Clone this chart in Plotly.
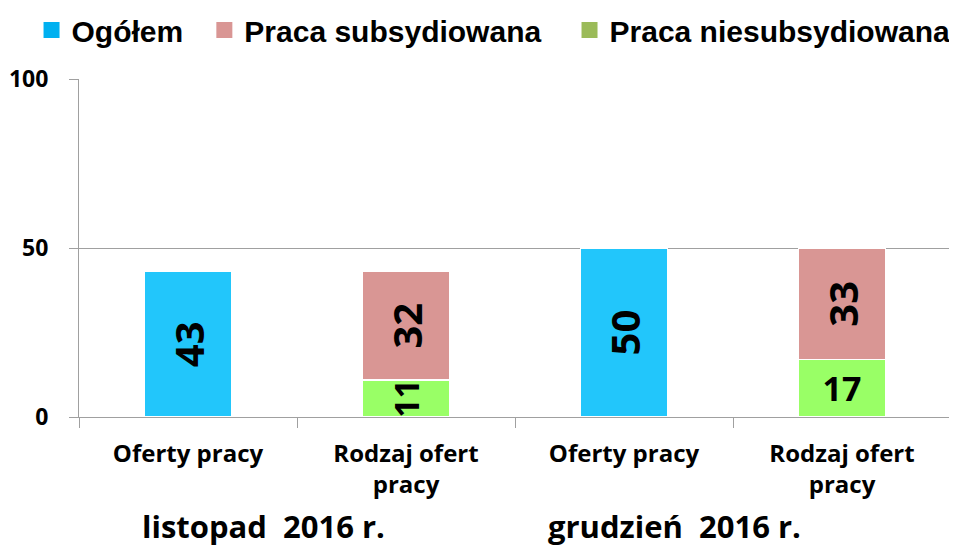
import plotly.graph_objects as go

categories = ["lis_oferty", "lis_rodzaj", "gru_oferty", "gru_rodzaj"]
tick_labels = ["Oferty pracy", "Rodzaj ofert<br>pracy", "Oferty pracy", "Rodzaj ofert<br>pracy"]
group_labels = ["listopad  2016 r.", "grudzień  2016 r."]

ogolem = [43, None, 50, None]
niesubs_rot = [None, 11, None, None]
niesubs_flat = [None, None, None, 17]
subs = [None, 32, None, 33]

series_names = ["Ogółem", "Praca subsydiowana", "Praca niesubsydiowana"]
legend_colors = ["#00b0f0", "#d99694", "#9bbb59"]
bar_colors = {"ogolem": "#22c6fb", "subs": "#d99694", "niesubs": "#99ff66"}


def txt(vals):
    return [("<b>%d</b>" % v) if v is not None else "" for v in vals]


fig = go.Figure()
common = dict(width=0.4, showlegend=False, textposition="inside",
              insidetextanchor="middle", constraintext="none", hoverinfo="skip")
edge = dict(color="white", width=1.5)
fig.add_bar(x=categories, y=ogolem, text=txt(ogolem), textangle=-90,
            textfont=dict(family="Open Sans", size=40, color="black"),
            marker=dict(color=bar_colors["ogolem"], line=edge), **common)
fig.add_bar(x=categories, y=niesubs_rot, text=txt(niesubs_rot), textangle=-90,
            textfont=dict(family="Open Sans", size=34, color="black"),
            marker=dict(color=bar_colors["niesubs"], line=edge), **common)
fig.add_bar(x=categories, y=niesubs_flat, text=txt(niesubs_flat), textangle=0,
            textfont=dict(family="Open Sans", size=34, color="black"),
            marker=dict(color=bar_colors["niesubs"], line=edge), **common)
fig.add_bar(x=categories, y=subs, text=txt(subs), textangle=-90,
            textfont=dict(family="Open Sans", size=40, color="black"),
            marker=dict(color=bar_colors["subs"], line=edge), **common)

# legend-only entries, each in its own legend box
legend_ids = ["legend", "legend2", "legend3"]
for name, col, lid in zip(series_names, legend_colors, legend_ids):
    fig.add_scatter(x=[None], y=[None], name="<b>%s</b>" % name, mode="markers",
                    marker=dict(color=col, symbol="square", size=18), showlegend=True,
                    legend=lid)

legend_style = dict(orientation="h", xref="container", y=0.959, yref="container",
                    yanchor="middle", xanchor="left", bgcolor="rgba(0,0,0,0)",
                    font=dict(family="Liberation Sans", size=30, color="black"),
                    itemwidth=30)

fig.update_layout(
    barmode="stack",
    width=949, height=539,
    margin=dict(l=71, r=6, t=71, b=130, autoexpand=False),
    plot_bgcolor="white", paper_bgcolor="white",
    legend=dict(x=0.0248, **legend_style),
    legend2=dict(x=0.2069, **legend_style),
    legend3=dict(x=0.5917, **legend_style),
    xaxis=dict(type="category", categoryorder="array", categoryarray=categories,
               tickvals=categories,
               ticktext=["<b>%s</b>" % t.replace("<br>", "</b><br><b>") for t in tick_labels],
               tickson="boundaries", ticks="outside", ticklen=10, tickcolor="#a0a0a0",
               ticklabelstandoff=15,
               showline=True, linecolor="#a0a0a0", linewidth=1,
               tickfont=dict(family="Open Sans", size=24, color="black"),
               range=[-0.5, 3.5], showgrid=False),
    yaxis=dict(range=[0, 100], tickvals=[0, 50, 100], ticktext=["<b>0</b>", "<b>50</b>", "<b>100</b>"],
               ticks="outside", ticklen=9, tickcolor="#a0a0a0", ticklabelstandoff=16,
               showline=True, linecolor="#a0a0a0", linewidth=1,
               showgrid=True, gridcolor="#a0a0a0", gridwidth=1, zeroline=False,
               tickfont=dict(family="Open Sans", size=23, color="black")),
)

for lab, xp in zip(group_labels, [0.212, 0.683]):
    fig.add_annotation(text="<b>%s</b>" % lab, x=xp, xref="paper", y=-0.322, yref="paper",
                       showarrow=False, font=dict(family="Open Sans", size=31, color="black"),
                       xanchor="center", yanchor="middle")

fig.write_html("out.html")
